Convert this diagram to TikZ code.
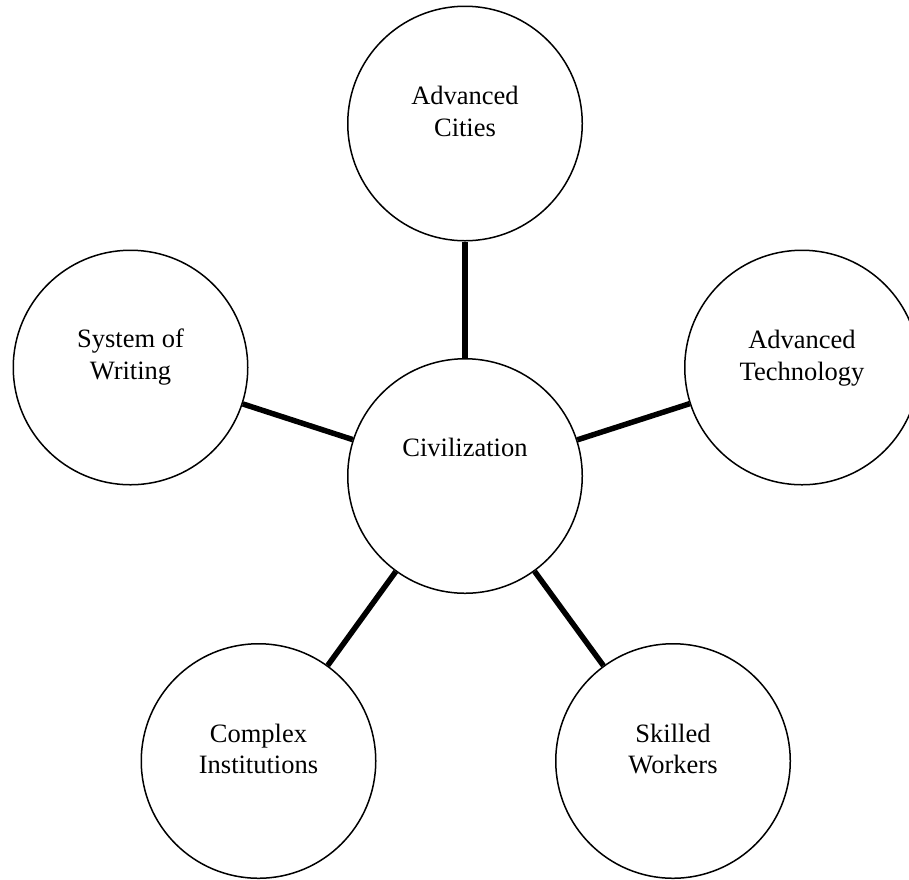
\documentclass[tikz,border=0pt]{standalone}
\usepackage{fontspec}
\setmainfont{Liberation Serif}
\begin{document}
\begin{tikzpicture}[x=1pt,y=-1pt,
  circ/.style={draw=black,line width=1.5pt,circle,inner sep=0pt,minimum size=234.5pt,fill=white},
  lbl/.style={anchor=north,inner sep=0pt,align=center,font=\fontsize{26.5}{31.8}\selectfont},
  link/.style={line width=5.5pt,black}]
\useasboundingbox (0,0) rectangle (909,879);
\node[circ] (civ) at (465,476) {};
\node[circ] (cities) at (465,123.5) {};
\node[circ] (writing) at (130.5,367.5) {};
\node[circ] (tech) at (802,367.5) {};
\node[circ] (inst) at (258.5,761) {};
\node[circ] (workers) at (673,761) {};
\draw[link] (civ) -- (cities);
\draw[link] (civ) -- (writing);
\draw[link] (civ) -- (tech);
\draw[link] (civ) -- (inst);
\draw[link] (civ) -- (workers);
\node[lbl] (civ-t) at ([yshift=37.6pt]civ.center) {Civilization};
\node[lbl] (cities-t) at ([yshift=37.6pt]cities.center) {Advanced\\Cities};
\node[lbl] (writing-t) at ([yshift=39pt]writing.center) {System of\\Writing};
\node[lbl] (tech-t) at ([yshift=37.6pt]tech.center) {Advanced\\Technology};
\node[lbl] (inst-t) at ([yshift=37.6pt]inst.center) {Complex\\Institutions};
\node[lbl] (workers-t) at ([yshift=37.6pt]workers.center) {Skilled\\Workers};
\end{tikzpicture}
\end{document}
